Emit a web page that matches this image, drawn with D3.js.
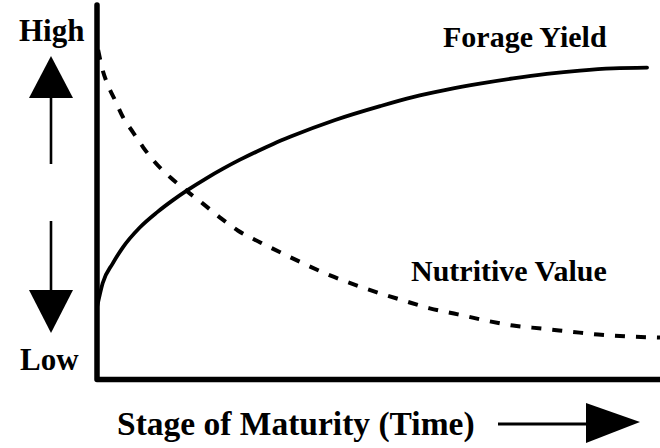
<!DOCTYPE html>
<html>
<head>
<meta charset="utf-8">
<script src="https://cdn.jsdelivr.net/npm/d3@7"></script>
</head>
<body style="margin:0;background:#fff">
<svg id="chart" width="660" height="448" style="display:block"></svg>
<script>
// ---- data (stage of maturity 0..100, value Low=0 .. High=100) ----
const yieldStage = [0, 1, 2.8, 4.6, 7.6, 10.7, 13.5, 16, 19.5, 22.4, 25.4, 28.4, 31.3, 34.3, 42.3, 50.3, 56.1, 62.2, 68, 73.9, 79.9, 85.8, 91.7, 97.7];
const yieldValue = [19.3, 25.7, 31, 35.3, 40.6, 44.7, 47.9, 50.5, 53.8, 56.3, 58.7, 60.9, 62.9, 64.8, 69.3, 73.0, 75.4, 77.4, 79.0, 80.4, 81.6, 82.5, 83.1, 83.3];
const nutritiveStage = [0.2, 0.9, 1.8, 3.2, 4.6, 6.4, 8.2, 10.3, 13, 15.8, 18.7, 21.8, 25, 29, 32.9, 41.4, 50.3, 54.4, 59.1, 64.1, 68.9, 73.9, 79, 84, 89, 94.1, 100];
const nutritiveValue = [88, 83.2, 79.1, 74.6, 70.1, 66, 62, 58, 54, 50.5, 47.1, 43.3, 39.8, 36.6, 33.7, 27.8, 23, 21.1, 19, 17.4, 15.8, 14.4, 13.6, 12.8, 12, 11.5, 11.2];
const seriesNames = ["Forage Yield", "Nutritive Value"];
const yLabels = ["High", "Low"];
const xLabel = "Stage of Maturity (Time)";

// ---- layout ----
const FONT = "Liberation Serif";
const svg = d3.select("#chart");
const x = d3.scaleLinear().domain([0, 100]).range([97, 660]);
const y = d3.scaleLinear().domain([0, 100]).range([379.5, 5]);

const line = d3.line().x(d => x(d[0])).y(d => y(d[1])).curve(d3.curveMonotoneX);

// Forage yield (solid)
svg.append("path")
  .datum(d3.zip(yieldStage, yieldValue))
  .attr("d", line)
  .attr("fill", "none")
  .attr("stroke", "#000")
  .attr("stroke-width", 3.8)
  .attr("stroke-linecap", "round");

// Nutritive value (dashed)
svg.append("path")
  .datum(d3.zip(nutritiveStage, nutritiveValue))
  .attr("d", line)
  .attr("fill", "none")
  .attr("stroke", "#000")
  .attr("stroke-width", 4)
  .attr("stroke-dasharray", "10,11");

// Axes (no ticks) drawn from the scales
svg.append("path")
  .attr("d", d3.line()([[x(0), y(100)], [x(0), y(0)], [x(100), y(0)]]))
  .attr("fill", "none")
  .attr("stroke", "#000")
  .attr("stroke-width", 5.5)
  .attr("stroke-linejoin", "round")
  .attr("stroke-linecap", "round");

function label(tx, ty, size, str) {
  svg.append("text")
    .attr("x", tx).attr("y", ty)
    .attr("font-family", FONT)
    .attr("font-weight", "bold")
    .attr("font-size", size)
    .attr("fill", "#000")
    .text(str);
}

// Series labels
label(443, 47, 30, seriesNames[0]);
label(411, 281, 30, seriesNames[1]);

// Y labels
label(19, 41, 31, yLabels[0]);
label(20, 370, 31, yLabels[1]);

// Up / down arrows
const ax = 51;
svg.append("line").attr("x1", ax).attr("x2", ax).attr("y1", 96).attr("y2", 164).attr("stroke", "#000").attr("stroke-width", 2.6);
svg.append("path").attr("d", `M${ax},56 L29,98 L73,98 Z`).attr("fill", "#000");
svg.append("line").attr("x1", ax).attr("x2", ax).attr("y1", 221).attr("y2", 293).attr("stroke", "#000").attr("stroke-width", 2.6);
svg.append("path").attr("d", `M29,290 L73,290 L${ax},333 Z`).attr("fill", "#000");

// X label and arrow
label(117, 435, 33.5, xLabel);
svg.append("line").attr("x1", 498).attr("x2", 590).attr("y1", 424).attr("y2", 424).attr("stroke", "#000").attr("stroke-width", 2.8);
svg.append("path").attr("d", "M586,403 L640,422 L586,443 Z").attr("fill", "#000");
</script>
</body>
</html>
